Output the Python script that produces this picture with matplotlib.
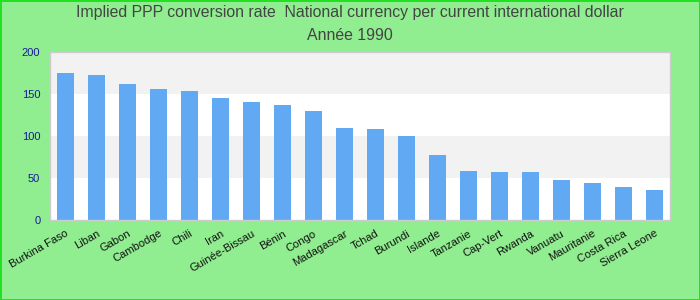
import matplotlib
matplotlib.use('Agg')
import matplotlib.pyplot as plt

# Data
countries = ['Burkina Faso', 'Liban', 'Gabon', 'Cambodge', 'Chili', 'Iran',
             'Guinée-Bissau', 'Bénin', 'Congo', 'Madagascar', 'Tchad', 'Burundi',
             'Islande', 'Tanzanie', 'Cap-Vert', 'Rwanda', 'Vanuatu', 'Mauritanie',
             'Costa Rica', 'Sierra Leone']
values = [174.5, 172, 161.5, 155.5, 153, 145, 140, 136.5, 129.5, 109.5,
          108, 99.8, 77.2, 58.2, 57.2, 57, 47.3, 43.8, 39, 35.5]
y_ticks = [0, 50, 100, 150, 200]

plt.rcParams['font.family'] = ['Liberation Sans', 'DejaVu Sans']

fig = plt.figure(figsize=(7, 3), dpi=100, facecolor='#90EE90',
                 edgecolor='#22E022', linewidth=2)
ax = fig.add_axes([50 / 700, 1 - 220 / 300, 620 / 700, 168.3 / 300])
ax.set_facecolor('white')

# alternating horizontal bands
for i in range(len(y_ticks) - 1):
    if i % 2 == 1:
        ax.axhspan(y_ticks[i], y_ticks[i + 1], color='#F2F2F2', zorder=0, lw=0)

x = range(len(countries))
ax.bar(x, values, width=0.55, color='#61A9F3', zorder=2)

ax.set_xlim(-0.5, len(countries) - 0.5)
ax.set_ylim(0, 200)
ax.set_yticks(y_ticks)
ax.tick_params(axis='y', length=0, labelsize=8, labelcolor='#1A1A9A', pad=7)
ax.tick_params(axis='x', length=0, labelsize=8, pad=6)
ax.set_xticks(list(x))
ax.set_xticklabels(countries, rotation=30, ha='right', rotation_mode='anchor',
                   color='#111111')
for s in ax.spines.values():
    s.set_color('#CCCCCC')
    s.set_linewidth(1)

fig.text(0.5, 1 - 13 / 300, 'Implied PPP conversion rate  National currency per current international dollar',
         ha='center', va='center', fontsize=11.4, color='#444444')
fig.text(0.5, 1 - 35 / 300, 'Année 1990', ha='center', va='center',
         fontsize=11.4, color='#444444')

fig.savefig('out.png', dpi=100, facecolor=fig.get_facecolor(),
            edgecolor=fig.get_edgecolor())
